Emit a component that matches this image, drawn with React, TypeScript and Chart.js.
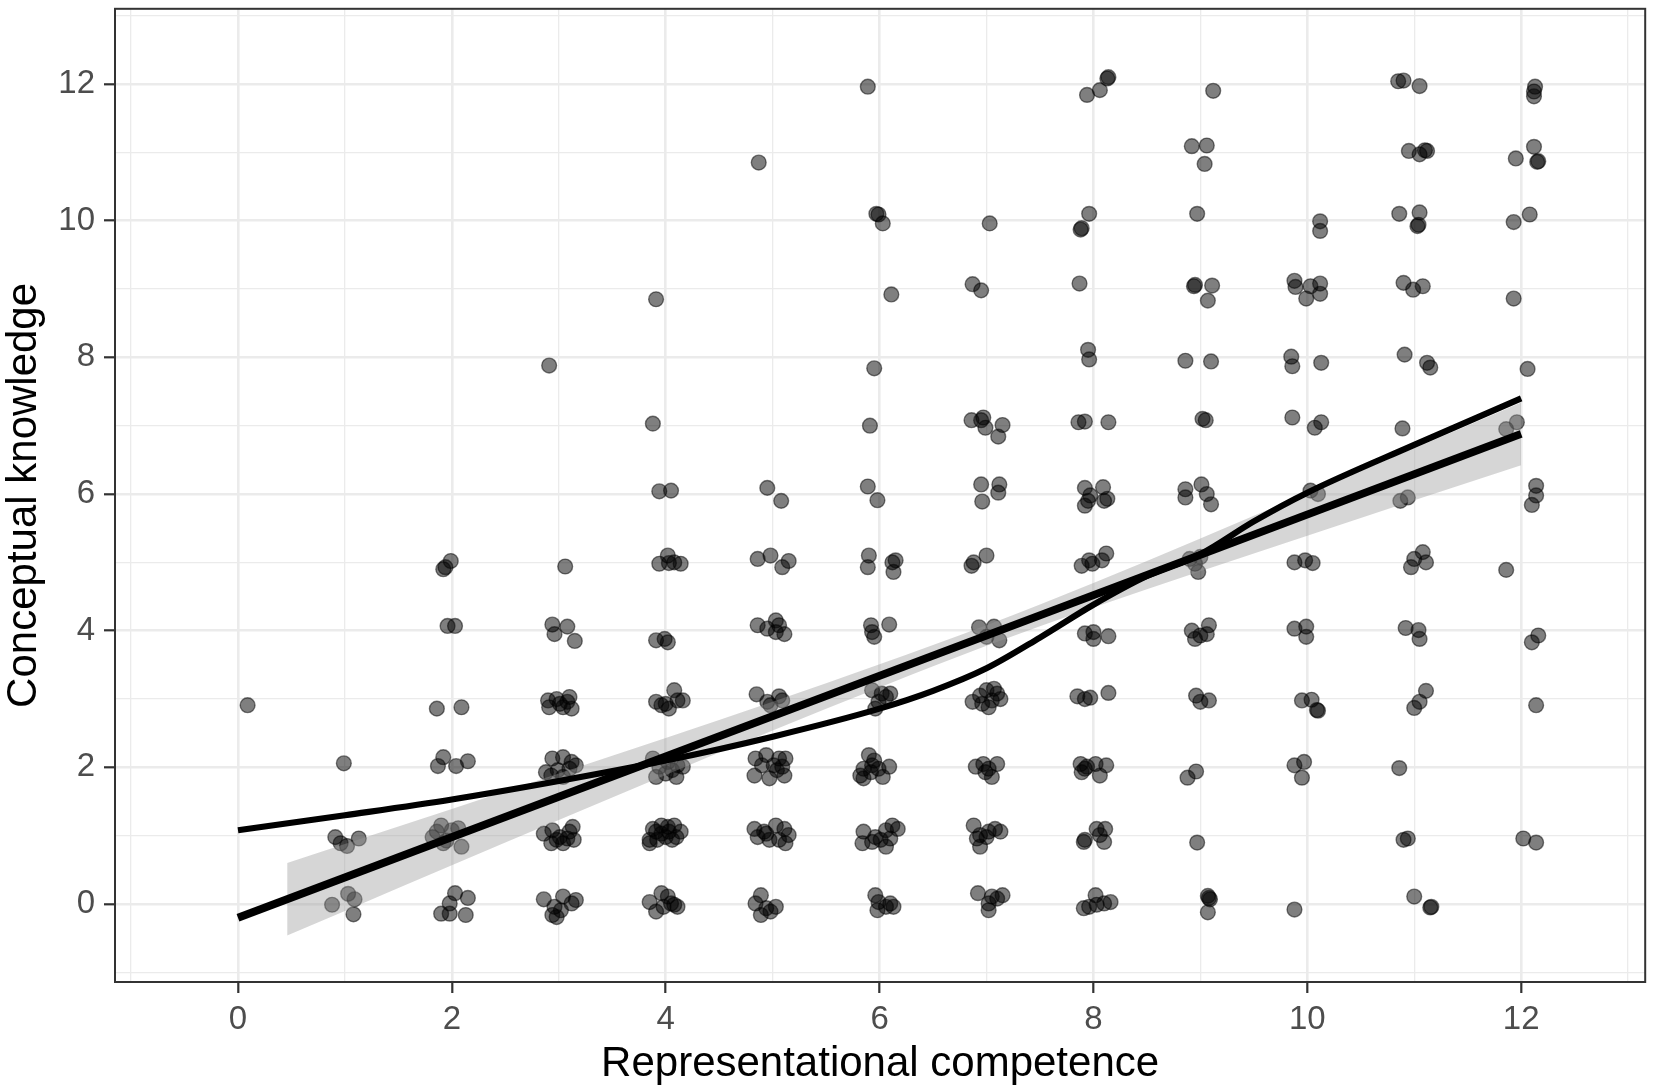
import React, { useEffect, useRef } from 'react';
import { Chart, registerables } from 'chart.js';

Chart.register(...registerables);

const FONT = '"Liberation Sans", Arial, Helvetica, sans-serif';

// axis ticks (major = even, minor = odd)
const xTickValues = [-1, 0, 1, 2, 3, 4, 5, 6, 7, 8, 9, 10, 11, 12, 13];
const yTickValues = [-1, 0, 1, 2, 3, 4, 5, 6, 7, 8, 9, 10, 11, 12, 13];
const xAxisTitle = 'Representational competence';
const yAxisTitle = 'Conceptual knowledge';

// linear fit
const lmX = [0, 12];
const lmY = [-0.2, 6.88];

// confidence band of the linear fit
const bandX = [0.46, 1, 2, 3, 4, 5, 6, 7, 8, 9, 10, 11, 12];
const bandLower = [-0.46, -0.1, 0.57, 1.23, 1.89, 2.54, 3.17, 3.78, 4.34, 4.87, 5.39, 5.91, 6.42];
const bandUpper = [0.6, 0.88, 1.39, 1.91, 2.43, 2.96, 3.51, 4.08, 4.7, 5.35, 6.01, 6.67, 7.34];

// loess curve
const loessX = [0, 1, 2, 3, 4, 5, 6, 6.5, 7, 7.5, 8, 8.5, 9, 9.5, 10, 11, 12];
const loessY = [1.08, 1.3, 1.53, 1.8, 2.1, 2.45, 2.86, 3.12, 3.45, 3.9, 4.38, 4.8, 5.12, 5.6, 6.02, 6.72, 7.4];

// jittered observations, grouped by representational competence score
const col0 = [[0.09, 2.91]];
const col1 = [[0.99, 2.06], [0.91, 0.98], [0.96, 0.89], [1.02, 0.85], [1.13, 0.96], [0.88, -0.01], [1.03, 0.15], [1.09, 0.07], [1.08, -0.15]];
const col2 = [
  [1.92, 4.9], [1.99, 5.02], [1.94, 4.93],
  [1.96, 4.07], [2.03, 4.07],
  [1.86, 2.86], [2.09, 2.88],
  [1.92, 2.15], [1.87, 2.02], [2.04, 2.02], [2.15, 2.09],
  [1.86, 1.06], [1.9, 1.15], [1.95, 0.93], [2.0, 1.08], [2.06, 1.11], [2.09, 0.84], [1.92, 0.89], [1.82, 0.98],
  [2.03, 0.16], [2.15, 0.09], [1.98, 0.01], [1.9, -0.14], [1.98, -0.14], [2.13, -0.16],
];
const col3 = [
  [2.91, 7.88], [3.06, 4.94],
  [2.94, 4.09], [3.08, 4.06], [2.96, 3.95], [3.15, 3.85],
  [2.9, 2.98], [3.01, 2.93], [3.1, 3.03], [3.12, 2.86], [3.04, 2.88], [2.91, 2.88], [3.08, 2.96], [2.98, 3.0],
  [2.94, 2.13], [3.04, 2.15], [3.12, 2.08], [2.88, 1.93], [2.99, 1.96], [3.1, 1.98], [3.16, 2.03], [2.93, 1.88], [3.04, 1.86],
  [2.86, 1.03], [2.94, 1.08], [3.01, 0.98], [3.1, 1.06], [3.13, 1.13], [2.93, 0.89], [3.04, 0.89], [3.14, 0.94], [2.98, 0.94], [3.08, 0.96],
  [2.86, 0.07], [2.96, -0.04], [3.04, 0.11], [3.12, 0.01], [3.16, 0.06], [2.94, -0.16], [3.02, -0.09], [2.98, -0.19],
];
const col4 = [
  [3.91, 8.85], [3.88, 7.03], [3.94, 6.04], [4.05, 6.05],
  [3.94, 4.98], [4.02, 5.1], [4.03, 4.99], [4.08, 5.0], [4.14, 4.98],
  [3.91, 3.86], [3.99, 3.88], [4.02, 3.83],
  [3.91, 2.96], [4.08, 3.13], [4.11, 2.98], [4.16, 2.98], [3.96, 2.91], [4.03, 2.86], [4.0, 2.93],
  [3.88, 2.13], [3.94, 2.01], [4.02, 2.08], [4.11, 2.03], [4.16, 2.01], [3.91, 1.86], [4.0, 1.91], [4.1, 1.86], [4.06, 1.96],
  [3.85, 0.94], [3.88, 1.1], [3.96, 1.15], [4.02, 1.13], [4.08, 1.15], [4.14, 1.06], [3.85, 0.89], [3.92, 0.94], [4.0, 0.98], [4.06, 0.94], [4.1, 0.98], [3.96, 1.03], [4.03, 1.06], [3.91, 1.06],
  [3.85, 0.03], [3.96, 0.16], [4.02, 0.11], [4.08, -0.01], [3.91, -0.11], [3.98, -0.04], [4.05, 0.01], [4.11, -0.04],
];
const col5 = [
  [4.87, 10.85], [4.95, 6.09], [5.08, 5.9],
  [4.86, 5.05], [4.98, 5.1], [5.09, 4.93], [5.15, 5.02],
  [4.86, 4.08], [4.95, 4.03], [5.03, 4.15], [5.06, 4.08], [5.11, 3.95], [5.03, 3.98],
  [4.85, 3.07], [4.95, 2.96], [5.06, 3.04], [4.98, 2.91], [5.09, 2.98],
  [4.84, 2.13], [4.94, 2.18], [5.06, 2.13], [5.12, 2.13], [4.83, 1.88], [4.97, 1.84], [5.04, 1.96], [5.11, 1.88], [4.9, 2.03], [5.01, 2.03], [5.09, 2.01],
  [4.83, 1.1], [4.92, 1.06], [5.03, 1.15], [5.11, 1.1], [5.15, 1.01], [4.86, 0.98], [4.97, 0.94], [5.06, 0.94], [5.12, 0.89], [4.94, 1.03],
  [4.89, 0.13], [4.84, 0.01], [4.94, -0.06], [5.03, -0.04], [4.89, -0.16], [4.98, -0.11],
];
const col6 = [
  [5.89, 11.96], [5.97, 10.1], [5.99, 10.09], [6.03, 9.96], [6.11, 8.92], [5.95, 7.84], [5.91, 7.0],
  [5.89, 6.11], [5.98, 5.91],
  [5.9, 5.1], [5.89, 4.93], [6.12, 5.0], [6.15, 5.03], [6.13, 4.86],
  [5.92, 4.08], [5.93, 3.98], [5.95, 3.91], [6.09, 4.09],
  [5.93, 3.13], [6.02, 3.08], [6.1, 3.08], [5.99, 2.96], [5.96, 2.86], [6.06, 3.03],
  [5.9, 2.18], [5.95, 2.1], [5.85, 1.98], [5.82, 1.88], [5.92, 1.93], [5.99, 1.98], [6.09, 2.01], [5.85, 1.84], [6.03, 1.86], [5.93, 2.03],
  [5.85, 1.06], [5.96, 0.98], [6.06, 1.08], [6.12, 1.15], [6.17, 1.1], [5.84, 0.89], [5.93, 0.91], [6.06, 0.84], [6.01, 0.94], [6.1, 0.96],
  [5.96, 0.13], [5.99, 0.03], [6.1, 0.01], [6.13, -0.04], [5.98, -0.09], [6.06, -0.04],
];
const col7 = [
  [7.03, 9.96], [6.87, 9.07], [6.95, 8.98],
  [6.86, 7.08], [6.97, 7.12], [6.95, 7.08], [6.99, 6.97], [7.15, 7.01], [7.11, 6.84],
  [6.95, 6.14], [7.12, 6.14], [7.11, 6.02], [6.96, 5.89],
  [6.88, 5.0], [6.86, 4.95], [7.0, 5.1],
  [6.93, 4.05], [7.07, 4.06], [7.0, 3.91], [7.12, 3.86],
  [6.87, 2.96], [6.94, 3.05], [7.0, 3.13], [7.07, 3.15], [7.13, 3.0], [7.02, 2.88], [7.05, 2.98], [6.96, 2.93], [7.1, 3.08],
  [6.9, 2.01], [6.97, 2.05], [7.02, 1.98], [7.1, 2.05], [7.05, 1.86], [6.99, 1.93],
  [6.88, 1.15], [6.94, 1.01], [7.02, 1.06], [7.08, 1.1], [7.13, 1.06], [6.94, 0.84], [7.0, 0.98], [6.91, 0.96],
  [6.92, 0.16], [7.05, 0.11], [7.15, 0.13], [7.02, 0.01], [7.1, 0.08], [7.02, -0.09],
];
const col8 = [
  [8.13, 12.08], [8.14, 12.1], [8.06, 11.91], [7.94, 11.84],
  [7.96, 10.1], [7.88, 9.87], [7.89, 9.89], [7.87, 9.08],
  [7.95, 8.11], [7.96, 7.97],
  [7.86, 7.05], [7.92, 7.06], [8.14, 7.05],
  [7.92, 6.09], [8.09, 6.1], [7.97, 5.98], [8.1, 5.9], [7.92, 5.83], [8.13, 5.93], [7.95, 5.9],
  [7.89, 4.95], [7.96, 5.03], [7.99, 4.98], [8.08, 5.03], [8.12, 5.13],
  [7.92, 3.96], [8.0, 3.98], [8.14, 3.92], [8.0, 3.88],
  [7.85, 3.04], [7.92, 3.0], [7.97, 3.02], [8.14, 3.09],
  [7.88, 2.05], [7.94, 2.01], [8.02, 2.05], [8.12, 2.03], [8.06, 1.88], [7.89, 1.93], [7.92, 1.98],
  [7.92, 0.94], [7.91, 0.91], [8.03, 1.1], [8.11, 1.1], [8.1, 0.91], [8.06, 1.01],
  [7.91, -0.06], [8.02, 0.13], [8.1, 0.01], [8.16, 0.03], [8.03, -0.01], [7.96, -0.04],
];
const col9 = [
  [9.12, 11.9], [8.92, 11.09], [9.06, 11.1], [9.04, 10.83], [8.97, 10.1],
  [8.94, 9.04], [8.95, 9.06], [9.11, 9.05], [9.07, 8.83],
  [8.86, 7.95], [9.1, 7.94], [9.02, 7.1], [9.05, 7.08],
  [8.86, 6.07], [8.86, 5.95], [9.01, 6.14], [9.06, 6.0], [9.1, 5.85],
  [8.9, 5.05], [9.0, 5.08], [8.98, 4.86], [8.95, 4.98],
  [8.92, 4.0], [9.0, 3.93], [9.08, 4.08], [9.06, 3.95], [8.95, 3.88],
  [8.96, 3.05], [9.0, 2.96], [9.08, 2.98],
  [8.96, 1.94], [8.88, 1.85], [8.97, 0.9],
  [9.07, 0.12], [9.08, 0.09], [9.09, 0.07], [9.07, -0.12],
];
const col10 = [
  [10.12, 9.99], [10.12, 9.85],
  [9.88, 9.12], [9.89, 9.03], [10.03, 9.04], [10.12, 9.08], [10.12, 8.93], [9.99, 8.86],
  [9.85, 8.01], [9.86, 7.87], [10.13, 7.92],
  [9.86, 7.12], [10.07, 6.97], [10.13, 7.05],
  [10.03, 6.05], [10.1, 6.0],
  [9.88, 5.0], [9.98, 5.03], [10.05, 4.99],
  [9.88, 4.03], [9.99, 4.06], [9.99, 3.91],
  [9.95, 2.98], [10.04, 2.99], [10.09, 2.84], [10.1, 2.83],
  [9.88, 2.03], [9.97, 2.08], [9.95, 1.85],
  [9.88, -0.08],
];
const col11 = [
  [10.85, 12.04], [10.9, 12.05], [11.05, 11.97],
  [10.95, 11.02], [11.05, 10.97], [11.1, 11.03], [11.12, 11.02],
  [10.86, 10.1], [11.05, 10.12], [11.03, 9.92], [11.04, 9.94],
  [10.9, 9.09], [10.99, 8.99], [11.08, 9.04],
  [10.91, 8.04], [11.12, 7.92], [11.15, 7.85],
  [10.89, 6.96], [10.87, 5.9], [10.94, 5.95],
  [10.97, 4.93], [11.0, 5.05], [11.08, 5.15], [11.11, 5.0],
  [10.92, 4.04], [11.04, 4.01], [11.05, 3.88],
  [11.11, 3.12], [11.05, 2.96], [11.0, 2.87],
  [10.86, 1.99], [10.9, 0.94], [10.94, 0.96],
  [11.0, 0.11], [11.15, -0.05], [11.16, -0.04],
];
const col12 = [
  [12.13, 11.96], [12.12, 11.89], [12.12, 11.82],
  [12.12, 11.08], [11.95, 10.91], [12.15, 10.86], [12.16, 10.87],
  [12.08, 10.09], [11.93, 9.98], [11.93, 8.86], [12.06, 7.83],
  [11.86, 6.95], [11.96, 7.05],
  [12.14, 6.12], [12.14, 5.98], [12.1, 5.84],
  [11.86, 4.89], [12.1, 3.83], [12.16, 3.93], [12.14, 2.91],
  [12.02, 0.96], [12.14, 0.9],
];

const isMajor = (v: number) => Math.round(v) % 2 === 0;

export default function App() {
  const ref = useRef<HTMLCanvasElement | null>(null);

  useEffect(() => {
    const canvas = ref.current;
    if (!canvas) return;

    const allCols = [col0, col1, col2, col3, col4, col5, col6, col7, col8, col9, col10, col11, col12];
    const points = allCols.flat().map(([x, y]) => ({ x, y }));
    const lower = bandX.map((x, i) => ({ x, y: bandLower[i] }));
    const upper = bandX.map((x, i) => ({ x, y: bandUpper[i] }));
    const lm = lmX.map((x, i) => ({ x, y: lmY[i] }));
    const loess = loessX.map((x, i) => ({ x, y: loessY[i] }));

    const panelBorder = {
      id: 'panelBorder',
      afterDatasetsDraw(chart: any) {
        const { ctx, chartArea } = chart;
        ctx.save();
        ctx.strokeStyle = '#333333';
        ctx.lineWidth = 2;
        ctx.strokeRect(chartArea.left, chartArea.top, chartArea.right - chartArea.left, chartArea.bottom - chartArea.top);
        ctx.restore();
      },
    };

    const gridCommon = {
      color: '#EBEBEB',
      lineWidth: (c: any) => (c.tick && isMajor(c.tick.value) ? 2.6 : 1.3),
      tickColor: (c: any) => (c.tick && isMajor(c.tick.value) ? '#333333' : 'rgba(0,0,0,0)'),
      tickLength: 11,
      tickWidth: 2.2,
      drawTicks: true,
      drawOnChartArea: true,
    };

    const chart = new Chart(canvas, {
      type: 'scatter',
      data: {
        datasets: [
          {
            type: 'scatter',
            data: points,
            pointRadius: 7.4,
            pointHoverRadius: 7.4,
            backgroundColor: 'rgba(0,0,0,0.5)',
            borderColor: 'rgba(0,0,0,0.5)',
            borderWidth: 1.4,
            order: 10,
          } as any,
          {
            type: 'line',
            data: lower,
            borderColor: 'rgba(0,0,0,0)',
            borderWidth: 0,
            pointRadius: 0,
            fill: false,
            cubicInterpolationMode: 'monotone',
            order: 5,
          } as any,
          {
            type: 'line',
            data: upper,
            borderColor: 'rgba(0,0,0,0)',
            borderWidth: 0,
            pointRadius: 0,
            fill: '-1',
            backgroundColor: 'rgba(153,153,153,0.4)',
            cubicInterpolationMode: 'monotone',
            order: 4,
          } as any,
          {
            type: 'line',
            data: lm,
            borderColor: '#000000',
            borderWidth: 7.8,
            pointRadius: 0,
            fill: false,
            order: 2,
          } as any,
          {
            type: 'line',
            data: loess,
            borderColor: '#000000',
            borderWidth: 6.2,
            pointRadius: 0,
            fill: false,
            cubicInterpolationMode: 'monotone',
            order: 1,
          } as any,
        ],
      },
      options: {
        responsive: false,
        animation: false,
        devicePixelRatio: 1,
        layout: { padding: { top: 7, right: 7, left: 0, bottom: 0 } },
        plugins: {
          legend: { display: false },
          tooltip: { enabled: false },
        },
        scales: {
          x: {
            type: 'linear',
            min: -1.15,
            max: 13.16,
            afterBuildTicks: (s: any) => {
              s.ticks = xTickValues.map((v) => ({ value: v }));
            },
            afterFit: (s: any) => {
              s.height = 110;
              s.paddingLeft = 0;
              s.paddingRight = 0;
            },
            ticks: {
              autoSkip: false,
              maxRotation: 0,
              color: '#4D4D4D',
              padding: 7,
              font: { family: FONT, size: 33 },
              callback: (v: any) => (isMajor(Number(v)) ? String(v) : ''),
            },
            grid: gridCommon as any,
            border: { display: false },
            title: {
              display: true,
              text: xAxisTitle,
              color: '#000000',
              font: { family: FONT, size: 42, lineHeight: 1.15 },
              padding: { top: 0, bottom: 3 },
            },
          },
          y: {
            type: 'linear',
            min: -1.14,
            max: 13.1,
            afterBuildTicks: (s: any) => {
              s.ticks = yTickValues.map((v) => ({ value: v }));
            },
            afterFit: (s: any) => {
              s.width = 115;
              s.paddingTop = 0;
              s.paddingBottom = 0;
            },
            ticks: {
              autoSkip: false,
              color: '#4D4D4D',
              padding: 9,
              font: { family: FONT, size: 33 },
              callback: (v: any) => (isMajor(Number(v)) ? String(v) : ''),
            },
            grid: gridCommon as any,
            border: { display: false },
            title: {
              display: true,
              text: yAxisTitle,
              color: '#000000',
              font: { family: FONT, size: 42, lineHeight: 1.15 },
              padding: { top: 0, bottom: 0 },
            },
          },
        },
      },
      plugins: [panelBorder],
    } as any);

    return () => chart.destroy();
  }, []);

  return (
    <div style={{ position: 'fixed', left: 0, top: 0, width: 1654, height: 1092, background: '#ffffff' }}>
      <canvas ref={ref} width={1654} height={1092} style={{ display: 'block' }} />
    </div>
  );
}
